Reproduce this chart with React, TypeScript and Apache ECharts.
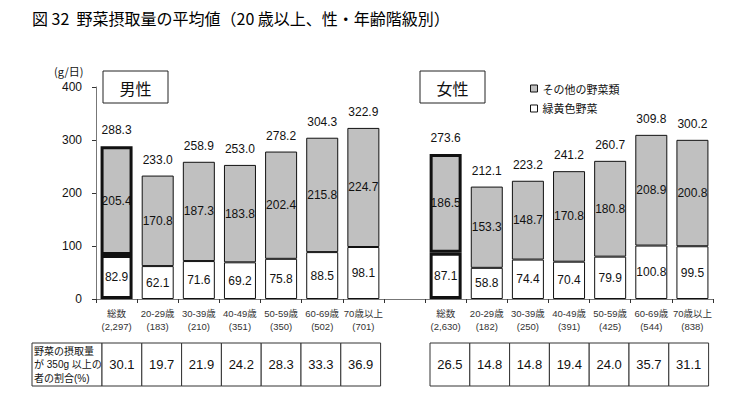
import React, { useEffect, useRef } from "react";
import * as echarts from "echarts";

const ageGroups = ["総数", "20-29歳", "30-39歳", "40-49歳", "50-59歳", "60-69歳", "70歳以上"];
const maleN = ["2,297", "183", "210", "351", "350", "502", "701"];
const femaleN = ["2,630", "182", "250", "391", "425", "544", "838"];
const maleGreen = [82.9, 62.1, 71.6, 69.2, 75.8, 88.5, 98.1];
const maleOther = [205.4, 170.8, 187.3, 183.8, 202.4, 215.8, 224.7];
const maleTotal = [288.3, 233.0, 258.9, 253.0, 278.2, 304.3, 322.9];
const femaleGreen = [87.1, 58.8, 74.4, 70.4, 79.9, 100.8, 99.5];
const femaleOther = [186.5, 153.3, 148.7, 170.8, 180.8, 208.9, 200.8];
const femaleTotal = [273.6, 212.1, 223.2, 241.2, 260.7, 309.8, 300.2];
const maleRate = [30.1, 19.7, 21.9, 24.2, 28.3, 33.3, 36.9];
const femaleRate = [26.5, 14.8, 14.8, 19.4, 24.0, 35.7, 31.1];
const yTicks = [0, 100, 200, 300, 400];

const FONT = "Liberation Sans, Noto Sans CJK JP, sans-serif";
const JP = "Noto Sans CJK JP, sans-serif";
const GRAY = "#c0c0c0";

export default function App() {
  const ref = useRef<HTMLDivElement>(null);
  useEffect(() => {
    if (!ref.current) return;
    const chart = echarts.init(ref.current, undefined, { renderer: "svg" });

    const cats = [
      ...ageGroups.map((_, i) => "m" + i),
      "gap",
      ...ageGroups.map((_, i) => "f" + i),
    ];
    const catLabels = [
      ...ageGroups.map((g, i) => g + "\n(" + maleN[i] + ")"),
      "",
      ...ageGroups.map((g, i) => g + "\n(" + femaleN[i] + ")"),
    ];
    const mk = (arr: number[], arr2: number[]) => [
      ...arr.map((v, i) => (i === 0 ? { value: v, itemStyle: { borderWidth: 3 } } : v)),
      "-",
      ...arr2.map((v, i) => (i === 0 ? { value: v, itemStyle: { borderWidth: 3 } } : v)),
    ];
    const totals = [...maleTotal, "-", ...femaleTotal];

    const graphics: any[] = [];
    graphics.push({
      type: "text",
      style: {
        text: "図 32  野菜摂取量の平均値（20 歳以上、性・年齢階級別）",
        x: 32, y: 18, verticalAlign: "middle",
        fontSize: 16, fontFamily: JP, fill: "#000",
      },
    });
    graphics.push({
      type: "text",
      style: { text: "(g/日)", x: 54, y: 71, verticalAlign: "middle", fontSize: 11, fontFamily: JP, fill: "#111" },
    });
    const box = (x: number, label: string) => {
      graphics.push({ type: "rect", shape: { x, y: 71, width: 65, height: 32 }, style: { fill: "#fff", stroke: "#222", lineWidth: 1 } });
      graphics.push({
        type: "text",
        style: { text: label, x: x + 32.5, y: 87.5, align: "center", verticalAlign: "middle", fontSize: 16, fontFamily: JP, fill: "#111" },
      });
    };
    box(103, "男性");
    box(420, "女性");

    // table
    const tableTop = 343, tableH = 43, cw = 39.8;
    const table = (x0: number, rates: number[], withLabel: boolean) => {
      let x = x0;
      if (withLabel) {
        graphics.push({ type: "rect", shape: { x: 32, y: tableTop, width: x0 - 32, height: tableH }, style: { fill: "#fff", stroke: "#333", lineWidth: 1 } });
        const lines = ["野菜の摂取量", "が 350g 以上の", "者の割合(%)"];
        lines.forEach((t, i) => {
          graphics.push({
            type: "text",
            style: { text: t, x: 34, y: 351 + i * 13.5, verticalAlign: "middle", fontSize: 10, fontFamily: FONT, fill: "#111" },
          });
        });
      }
      rates.forEach((r) => {
        graphics.push({ type: "rect", shape: { x, y: tableTop, width: cw, height: tableH }, style: { fill: "#fff", stroke: "#333", lineWidth: 1 } });
        graphics.push({
          type: "text",
          style: { text: r.toFixed(1), x: x + cw / 2, y: tableTop + tableH / 2, align: "center", verticalAlign: "middle", fontSize: 13, fontFamily: FONT, fill: "#111" },
        });
        x += cw;
      });
    };
    table(102, maleRate, true);
    table(430, femaleRate, false);

    chart.setOption({
      animation: false,
      backgroundColor: "#fff",
      grid: { left: 96, right: 37, top: 87, bottom: 96 },
      legend: {
        orient: "vertical",
        left: 525,
        top: 78,
        itemWidth: 7,
        itemHeight: 7,
        itemGap: 9,
        icon: "rect",
        itemStyle: { borderWidth: 1, borderColor: "#111" },
        data: ["その他の野菜類", "緑黄色野菜"],
        textStyle: { fontSize: 11, fontFamily: JP, color: "#111" },
        selectedMode: false,
      },
      xAxis: {
        type: "category",
        data: cats,
        axisLine: { lineStyle: { color: "#777", width: 1 } },
        axisTick: { show: true, interval: 0, length: 4, lineStyle: { color: "#333" } },
        axisLabel: {
          interval: 0,
          margin: 8,
          fontSize: 9.5,
          lineHeight: 13,
          fontFamily: FONT,
          color: "#333",
          hideOverlap: false,
          formatter: (_v: string, i: number) => catLabels[i],
        },
      },
      yAxis: {
        type: "value",
        min: 0,
        max: 400,
        interval: 100,
        splitLine: { show: false },
        axisLine: { show: true, lineStyle: { color: "#777" } },
        axisTick: { show: true, length: 4, lineStyle: { color: "#333" } },
        axisLabel: {
          margin: 14,
          fontSize: 12,
          fontFamily: FONT,
          color: "#111",
          customValues: yTicks,
        },
      },
      series: [
        {
          name: "緑黄色野菜",
          type: "bar",
          stack: "v",
          barWidth: 32,
          data: mk(maleGreen, femaleGreen),
          itemStyle: { color: "#fff", borderColor: "#111", borderWidth: 1 },
          label: { show: true, position: "inside", fontSize: 12, fontFamily: FONT, color: "#111", formatter: (p: any) => Number(p.value).toFixed(1) },
        },
        {
          name: "その他の野菜類",
          type: "bar",
          stack: "v",
          barWidth: 32,
          data: mk(maleOther, femaleOther),
          itemStyle: { color: GRAY, borderColor: "#111", borderWidth: 1 },
          label: { show: true, position: "inside", fontSize: 12, fontFamily: FONT, color: "#111", formatter: (p: any) => Number(p.value).toFixed(1) },
        },
        {
          name: "total",
          type: "bar",
          barWidth: 32,
          barGap: "-100%",
          silent: true,
          z: 1,
          data: totals,
          itemStyle: { color: "rgba(0,0,0,0)", borderWidth: 0 },
          label: { show: true, position: "top", distance: 10, fontSize: 12, fontFamily: FONT, color: "#111", formatter: (p: any) => Number(p.value).toFixed(1) },
        },
      ],
      graphic: graphics,
    });
    return () => chart.dispose();
  }, []);
  return (
    <div
      ref={ref}
      style={{ position: "fixed", left: 0, top: 0, width: 750, height: 395, background: "#fff" }}
    />
  );
}
